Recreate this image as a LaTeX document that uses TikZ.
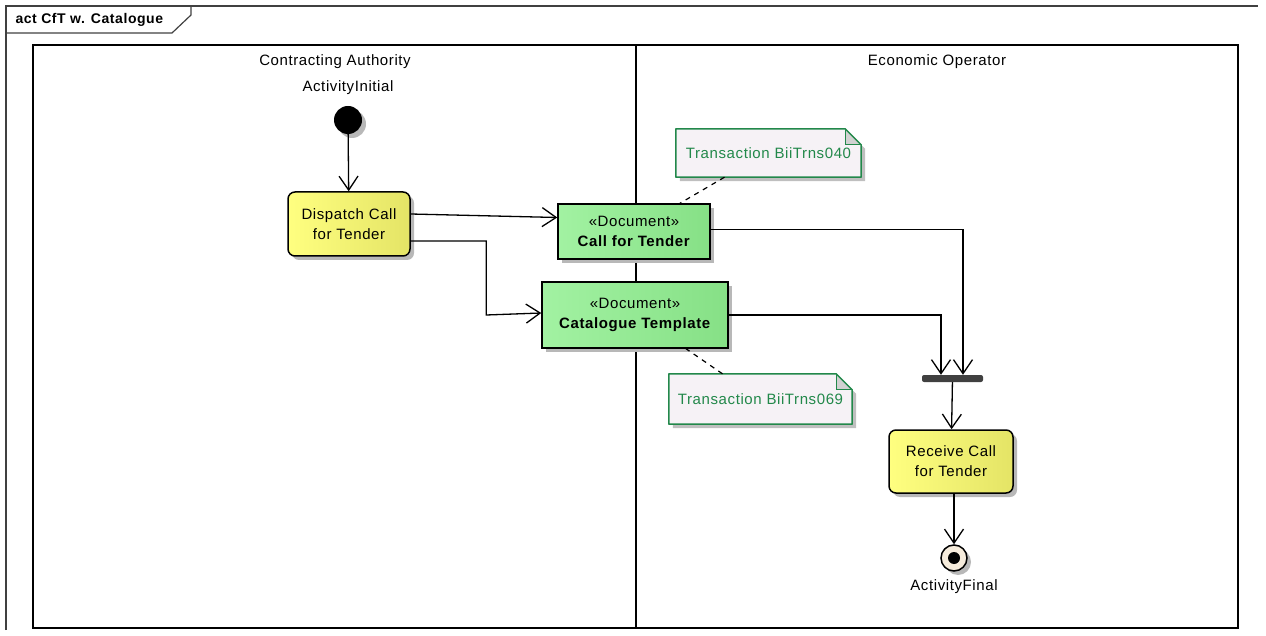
\documentclass[tikz,border=0pt]{standalone}
\usepackage{fontspec}
\setmainfont[LetterSpace=4]{Liberation Sans}
\usepackage{xcolor}
\usepackage{tikz}
\usetikzlibrary{arrows.meta,shadows}

\definecolor{actleft}{HTML}{FFFF80}
\definecolor{actright}{HTML}{E4E466}
\definecolor{docleft}{HTML}{A2F2A2}
\definecolor{docmid}{HTML}{B6FFB6}
\definecolor{docright}{HTML}{86E086}
\definecolor{notegreen}{HTML}{22884A}
\definecolor{notefill}{HTML}{F6F2F6}
\definecolor{finalfill}{HTML}{F6ECDC}

\tikzset{
  shadowed/.style={drop shadow={shadow xshift=4pt,shadow yshift=-4pt,fill=black!28,opacity=1}},
  action/.style={draw,line width=1.5pt,rounded corners=7pt,align=center,shadowed,
    left color=actleft,right color=actright,inner sep=0pt},
  docbox/.style={draw,line width=1.5pt,align=center,shadowed,
    left color=docleft,middle color=docmid,right color=docright,inner sep=0pt},
  notebox/.style={inner sep=0pt},
  notetext/.style={text=notegreen,inner sep=0pt},
  flow/.style={line width=1.3pt,-{Straight Barb[length=14pt,width=19pt,line width=1.3pt]}},
}

\begin{document}
\begin{tikzpicture}[x=1pt,y=-1pt,font=\fontsize{15}{20}\selectfont]
\useasboundingbox (0,0) rectangle (1266,636);

% frame and lanes
\draw[line width=1.2pt,black!75] (6,630) -- (6,6) -- (1258,6);
\draw[line width=1.2pt,black!75] (6,33) -- (172,33) -- (191,15) -- (191,6);
\node[anchor=west,font=\bfseries\fontsize{14}{15}\selectfont] (title) at (12,20) {act CfT w. Catalogue};
\draw[line width=1.3pt] (33,45) rectangle (1238,628);
\draw[line width=1.3pt] (636,45) -- (636,628);
\node (laneA) at (335,62) {Contracting Authority};
\node (laneB) at (937,62) {Economic Operator};

% nodes
\node (initlbl) at (348,88) {ActivityInitial};
\node[circle,fill,inner sep=0pt,minimum size=28pt,shadowed] (init) at (348,120) {};
\node[action,minimum width=122pt,minimum height=64pt] (disp) at (349,224) {Dispatch Call\\for Tender};
\node[docbox,minimum width=152pt,minimum height=55pt] (cft) at (634,231.5) {«Document»\\\textbf{Call for Tender}};
\node[docbox,minimum width=186pt,minimum height=66pt] (cat) at (635,315) {«Document»\\\textbf{Catalogue Template}};
\node[fill=black!75,rounded corners=2pt,minimum width=61pt,minimum height=7pt,inner sep=0pt] (join) at (952.5,378.5) {};
\node[action,minimum width=124pt,minimum height=63pt] (recv) at (951,461.5) {Receive Call\\for Tender};
\node[circle,draw,line width=1.5pt,fill=finalfill,inner sep=0pt,minimum size=26pt,shadowed] (final) at (954,558) {};
\node[circle,fill,inner sep=0pt,minimum size=12pt] (finaldot) at (final) {};
\node (finallbl) at (954,587) {ActivityFinal};

% notes
\node[notebox,minimum width=185pt,minimum height=48pt] (n1) at (768.5,153) {};
\node[notebox,minimum width=183pt,minimum height=50pt] (n2) at (760.5,399) {};
\foreach \n/\t in {n1/Transaction BiiTrns040,n2/Transaction BiiTrns069} {
  \fill[black!25] ([shift={(4pt,-4pt)}]\n.north west) -- ([shift={(-12pt,-4pt)}]\n.north east)
    -- ([shift={(4pt,-20pt)}]\n.north east) -- ([shift={(4pt,-4pt)}]\n.south east)
    -- ([shift={(4pt,-4pt)}]\n.south west) -- cycle;
  \fill[notefill] (\n.north west) -- ([xshift=-16pt]\n.north east) -- ([yshift=-16pt]\n.north east)
    -- (\n.south east) -- (\n.south west) -- cycle;
  \fill[black!18] ([xshift=-16pt]\n.north east) -- ([xshift=-16pt,yshift=-16pt]\n.north east)
    -- ([yshift=-16pt]\n.north east) -- cycle;
  \draw[notegreen,line width=1.5pt,line join=round] (\n.north west) -- ([xshift=-16pt]\n.north east)
    -- ([yshift=-16pt]\n.north east) -- (\n.south east) -- (\n.south west) -- cycle;
  \draw[notegreen,line width=1pt] ([xshift=-16pt]\n.north east) -- ([xshift=-16pt,yshift=-16pt]\n.north east)
    -- ([yshift=-16pt]\n.north east);
  \node[notetext] (\n txt) at (\n) {\t};
}

% connectors
\draw[flow] (init) -- (disp);
\draw[flow] ([yshift=10pt]disp.east) -- ([yshift=14pt]cft.west);
\draw[flow] ([yshift=-17pt]disp.east) -| ([xshift=-55pt]cat.west) -- ([yshift=2pt]cat.west);
\draw[flow] ([yshift=2pt]cft.east) -| ([xshift=10.5pt]join.north);
\draw[flow] (cat.east) -| ([xshift=-11.5pt]join.north);
\draw[flow] (join) -- (recv);
\draw[flow] ([xshift=3pt]recv.south) -- (final);
\draw[line width=1.2pt,dash pattern=on 5pt off 5pt] ([xshift=-44pt]n1.south) -- ([xshift=46pt]cft.north);
\draw[line width=1.2pt,dash pattern=on 5pt off 5pt] ([xshift=-38pt]n2.north) -- ([xshift=51pt]cat.south);
\end{tikzpicture}
\end{document}
